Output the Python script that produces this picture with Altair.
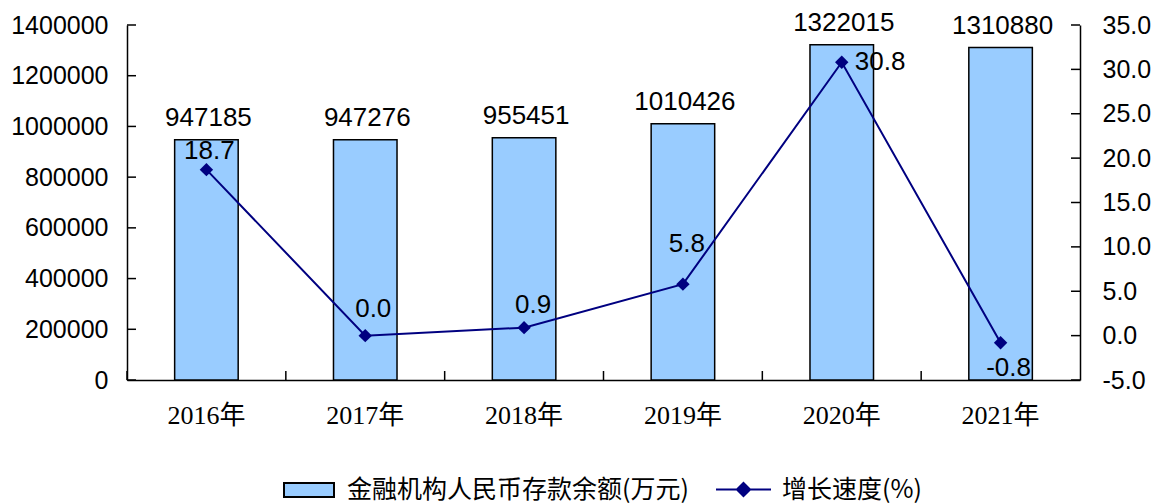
import altair as alt
import pandas as pd

# ---------------- data ----------------
years = ["2016年", "2017年", "2018年", "2019年", "2020年", "2021年"]
deposits = [947185, 947276, 955451, 1010426, 1322015, 1310880]
growth = [18.7, 0.0, 0.9, 5.8, 30.8, -0.8]
left_ticks = [0, 200000, 400000, 600000, 800000, 1000000, 1200000, 1400000]
right_ticks = [-5, 0, 5, 10, 15, 20, 25, 30, 35]
bar_name = "金融机构人民币存款余额(万元)"
line_name = "增长速度(%)"

df = pd.DataFrame({"year": years, "deposit": deposits, "growth": growth})
df["s1"] = bar_name
df["s2"] = line_name
df_lt = pd.DataFrame({"v": left_ticks})
df_rt = pd.DataFrame({"v": right_ticks})

# ---------------- style ----------------
W, H = 953, 355
NUM_FONT = "Arial, Liberation Sans"
SERIF = "Times New Roman, Liberation Serif, Noto Sans CJK SC"
CJK = "Noto Sans CJK SC"
BAR_FILL = "#99CCFF"
LINE_COL = "#000080"

x_axis = alt.Axis(title=None, labelFont=SERIF, labelFontSize=26, labelAngle=0,
                  labelPadding=22, ticks=False, domainColor="black", domainWidth=1.5)
x_scale = alt.Scale(paddingInner=0, paddingOuter=0)
X = alt.X("year:N", sort=years, scale=x_scale, axis=x_axis)

left_scale = alt.Scale(domain=[0, 1400000], nice=False, zero=True)
left_axis = alt.Axis(title=None, orient="left", values=left_ticks, format="d",
                     labelFont=NUM_FONT, labelFontSize=25, labelPadding=19,
                     ticks=False, grid=False, domainColor="black", domainWidth=1.5)
right_scale = alt.Scale(domain=[-5, 35], nice=False, zero=False)
right_axis = alt.Axis(title=None, orient="right", values=right_ticks,
                      labelExpr="replace(format(datum.value, '.1f'), '\u2212', '-')",
                      labelFont=NUM_FONT, labelFontSize=25, labelPadding=22,
                      ticks=False, grid=False, domainColor="black", domainWidth=1.5)

base = alt.Chart(df)

bars = base.mark_bar(stroke="black", strokeWidth=1.5,
                     width=alt.RelativeBandSize(0.4)).encode(
    x=X,
    y=alt.Y("deposit:Q", scale=left_scale, axis=left_axis),
    color=alt.Color("s1:N", scale=alt.Scale(domain=[bar_name], range=[BAR_FILL]),
                    legend=alt.Legend(orient="none", legendX=156, legendY=439,
                                      title=None, padding=0, labelLimit=0,
                                      symbolType="M-1,-0.28H1V0.28H-1Z",
                                      symbolSize=2500, symbolStrokeColor="black",
                                      symbolStrokeWidth=2, labelFont=CJK,
                                      labelFontSize=25, labelOffset=12,
                                      labelColor="black")),
)

bar_text = base.mark_text(font=NUM_FONT, fontSize=26, baseline="alphabetic",
                          dy=-14, dx=2, color="black").encode(
    x=X,
    y=alt.Y("deposit:Q", scale=left_scale, axis=left_axis),
    text=alt.Text("deposit:Q", format="d"),
)

left_tick_rules = alt.Chart(df_lt).mark_rule(color="black", strokeWidth=1.5).encode(
    y=alt.Y("v:Q", scale=left_scale, axis=left_axis),
    x=alt.value(0), x2=alt.value(9),
)

x_tick_rules = base.mark_rule(color="black", strokeWidth=1.5).encode(
    x=alt.X("year:N", sort=years, scale=x_scale, axis=x_axis, bandPosition=0),
    y=alt.value(H), y2=alt.value(H - 9),
)

left_group = alt.layer(bars, bar_text, left_tick_rules, x_tick_rules)

line = base.mark_line(color=LINE_COL, strokeWidth=2).encode(
    x=X,
    y=alt.Y("growth:Q", scale=right_scale, axis=right_axis),
)

points = base.mark_point(filled=True, shape="diamond", size=180, opacity=1).encode(
    x=X,
    y=alt.Y("growth:Q", scale=right_scale, axis=right_axis),
    color=alt.Color("s2:N", scale=alt.Scale(domain=[line_name], range=[LINE_COL]),
                    legend=alt.Legend(orient="none", legendX=588, legendY=436,
                                      title=None, padding=0, labelLimit=0,
                                      symbolType="M-1,0H1M0,-0.24L0.24,0L0,0.24L-0.24,0Z",
                                      symbolSize=3025, symbolStrokeColor=LINE_COL,
                                      symbolFillColor=LINE_COL,
                                      symbolStrokeWidth=2, labelFont=CJK,
                                      labelFontSize=25, labelOffset=10,
                                      labelColor="black")),
)

# per-label placement (style only)
label_style = {
    "2016年": (3, -11, "center"),
    "2017年": (8, -19, "center"),
    "2018年": (9, -15, "center"),
    "2019年": (4, -32, "center"),
    "2020年": (13, 8, "left"),
    "2021年": (8, 33, "center"),
}
line_texts = []
for yr in years:
    dx, dy, al = label_style[yr]
    line_texts.append(
        base.transform_filter(alt.datum.year == yr)
        .transform_calculate(lbl="replace(format(datum.growth, '.1f'), '\u2212', '-')")
        .mark_text(font=NUM_FONT, fontSize=26, baseline="alphabetic",
                   align=al, dx=dx, dy=dy, color="black")
        .encode(x=X, y=alt.Y("growth:Q", scale=right_scale, axis=right_axis),
                text="lbl:N")
    )

right_tick_rules = alt.Chart(df_rt).mark_rule(color="black", strokeWidth=1.5).encode(
    y=alt.Y("v:Q", scale=right_scale, axis=right_axis),
    x=alt.value(W - 9), x2=alt.value(W),
)

right_group = alt.layer(line, points, *line_texts, right_tick_rules)

chart = alt.layer(left_group, right_group).resolve_scale(
    y="independent", color="independent"
).properties(
    width=W, height=H,
    autosize=alt.AutoSizeParams(type="none"),
    padding={"left": 119, "top": 17, "right": 73, "bottom": 124},
).configure_view(stroke=None).configure_axis(labelColor="black")

chart.save("out.html", embed_options={"renderer": "svg", "actions": False})
